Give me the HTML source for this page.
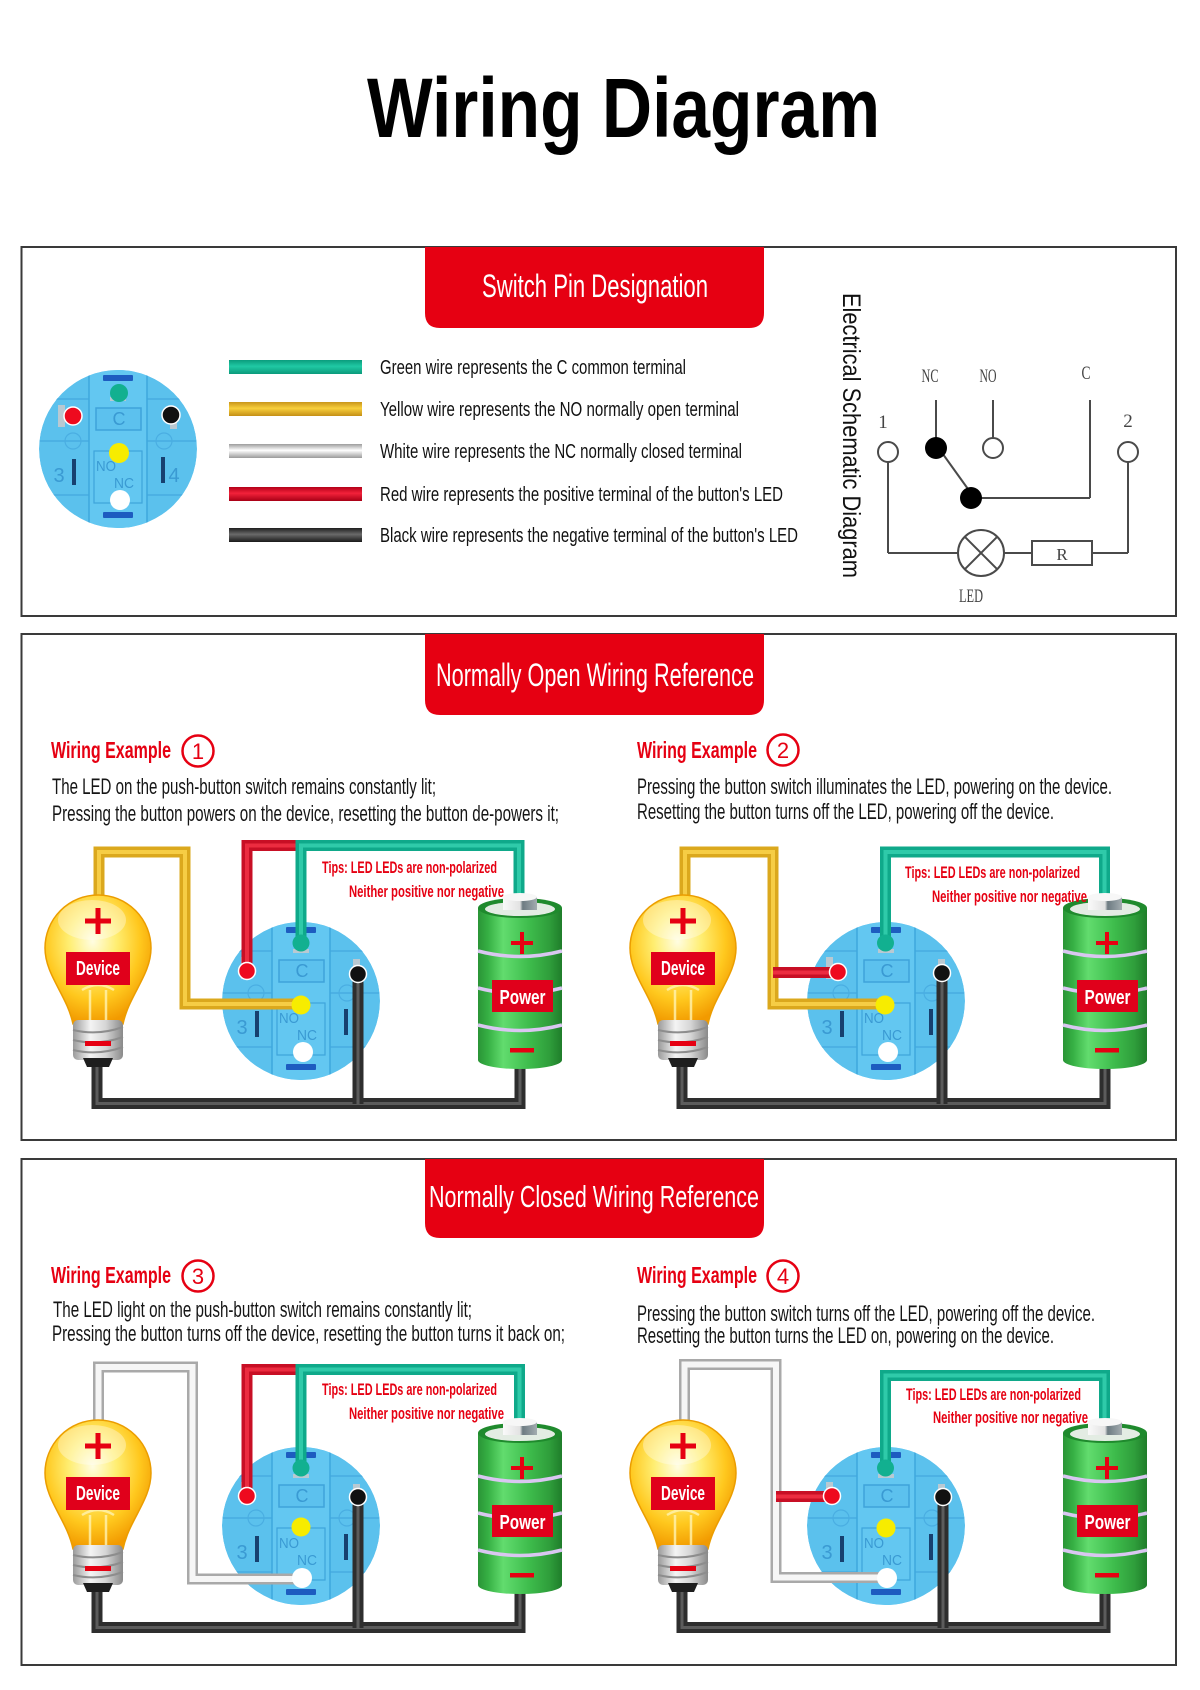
<!DOCTYPE html>
<html><head><meta charset="utf-8"><title>Wiring Diagram</title>
<style>
html,body{margin:0;padding:0;background:#fff;width:1200px;height:1690px;overflow:hidden}
svg{display:block}
text{font-family:"Liberation Sans","DejaVu Sans",sans-serif}
.serif text{font-family:"Liberation Serif","DejaVu Serif",serif}
.tips text{font-weight:600}
.w{fill:none;stroke-linejoin:miter;stroke-linecap:butt}
.wy{stroke:#dba81d;stroke-width:11}
.wyh{stroke:#f6cd45;stroke-width:4}
.wg{stroke:#0fa98a;stroke-width:11}
.wgh{stroke:#2fcaa9;stroke-width:4}
.wr{stroke:#c80f25;stroke-width:11}
.wrh{stroke:#ec2c40;stroke-width:4}
.wk{stroke:#2e2e2e;stroke-width:11}
.wkh{stroke:#5c5c5c;stroke-width:3}
.ww{stroke:#a9a9a9;stroke-width:11}
.wwh{stroke:#f6f6f6;stroke-width:6}
</style></head><body>
<svg width="1200" height="1690" viewBox="0 0 1200 1690">
<defs>
 <clipPath id="swClip"><circle r="79"/></clipPath>
 <radialGradient id="gBulb" cx="0.45" cy="0.36" r="0.64">
  <stop offset="0" stop-color="#fffde2"/>
  <stop offset="0.35" stop-color="#ffee72"/>
  <stop offset="0.7" stop-color="#ffc81e"/>
  <stop offset="1" stop-color="#f29a00"/>
 </radialGradient>
 <linearGradient id="gBase" x1="0" y1="0" x2="1" y2="0">
  <stop offset="0" stop-color="#9a9a9a"/>
  <stop offset="0.35" stop-color="#f4f4f4"/>
  <stop offset="0.65" stop-color="#d6d6d6"/>
  <stop offset="1" stop-color="#8a8a8a"/>
 </linearGradient>
 <linearGradient id="gBat" x1="0" y1="0" x2="1" y2="0">
  <stop offset="0" stop-color="#2a9436"/>
  <stop offset="0.12" stop-color="#36b044"/>
  <stop offset="0.3" stop-color="#62dc6e"/>
  <stop offset="0.45" stop-color="#50cd5e"/>
  <stop offset="0.62" stop-color="#3dbb4b"/>
  <stop offset="0.85" stop-color="#2f9e3b"/>
  <stop offset="1" stop-color="#1f7d2a"/>
 </linearGradient>
 <linearGradient id="gCap" x1="0" y1="0" x2="1" y2="0">
  <stop offset="0" stop-color="#fafafa"/>
  <stop offset="0.5" stop-color="#e2e2e2"/>
  <stop offset="0.58" stop-color="#6d7b82"/>
  <stop offset="1" stop-color="#a3acb0"/>
 </linearGradient>
 <linearGradient id="bG" x1="0" y1="0" x2="0" y2="1">
  <stop offset="0" stop-color="#0b9c7d"/><stop offset="0.45" stop-color="#20c9a4"/><stop offset="1" stop-color="#0b9a7b"/>
 </linearGradient>
 <linearGradient id="bY" x1="0" y1="0" x2="0" y2="1">
  <stop offset="0" stop-color="#c9951a"/><stop offset="0.45" stop-color="#f8cf3c"/><stop offset="1" stop-color="#c48f16"/>
 </linearGradient>
 <linearGradient id="bW" x1="0" y1="0" x2="0" y2="1">
  <stop offset="0" stop-color="#9c9c9c"/><stop offset="0.45" stop-color="#ffffff"/><stop offset="1" stop-color="#9a9a9a"/>
 </linearGradient>
 <linearGradient id="bR" x1="0" y1="0" x2="0" y2="1">
  <stop offset="0" stop-color="#b30018"/><stop offset="0.45" stop-color="#f2213a"/><stop offset="1" stop-color="#a80016"/>
 </linearGradient>
 <linearGradient id="bK" x1="0" y1="0" x2="0" y2="1">
  <stop offset="0" stop-color="#1e1e1e"/><stop offset="0.45" stop-color="#6a6a6a"/><stop offset="1" stop-color="#1a1a1a"/>
 </linearGradient>

 <g id="bulb">
  <path d="M-53,0 A53,53 0 1 1 53,0 C53,27 31,47 25,76 L-25,76 C-31,47 -53,27 -53,0 Z" fill="url(#gBulb)" stroke="#eb9d00" stroke-width="1.5"/>
  <ellipse cx="-6" cy="-28" rx="34" ry="20" fill="#ffffff" opacity="0.35"/>
  <path d="M-16,42 Q0,32 16,42 M-8,42 L-8,74 M8,42 L8,74" stroke="#fff2b0" stroke-width="2.5" fill="none" opacity="0.8"/>
  <rect x="-25" y="72" width="50" height="40" rx="5" fill="url(#gBase)"/>
  <path d="M-25,82 Q0,88 25,79 M-25,92 Q0,98 25,89 M-25,102 Q0,108 25,99" stroke="#8d8d8d" stroke-width="2" fill="none"/>
  <path d="M-15,110 H15 L11,119 H-11 Z" fill="#1e1e1e"/>
  <rect x="-13" y="-29.5" width="26" height="5" fill="#e60012"/>
  <rect x="-2.5" y="-40" width="5" height="26" fill="#e60012"/>
  <rect x="-32" y="4" width="64" height="33" fill="#e0001b"/>
  <rect x="-13" y="93" width="26" height="5" fill="#e60012"/>
 </g>

 <g id="bat">
  <path d="M-42,8 V160 A42,9 0 0 0 42,160 V8 Z" fill="url(#gBat)"/>
  <ellipse cx="0" cy="8" rx="42" ry="10" fill="#1f8a2d"/>
  <ellipse cx="0" cy="9" rx="35" ry="7" fill="#e3ece3"/>
  <rect x="-17" y="-3" width="34" height="13" fill="url(#gCap)"/>
  <ellipse cx="0" cy="-3" rx="17" ry="4" fill="#f7f7f7"/>
  <path d="M-42,51 Q0,62 42,51 M-42,88 Q0,99 42,88 M-42,125 Q0,136 42,125" stroke="#d9c7f1" stroke-width="3.5" fill="none"/>
  <rect x="-9" y="41" width="22" height="4" fill="#e60012"/>
  <rect x="0" y="32" width="4" height="22" fill="#e60012"/>
  <rect x="-28" y="80" width="61" height="32" fill="#e0001b"/>
  <rect x="-10" y="148" width="24" height="4.5" fill="#e60012"/>
 </g>

 <g id="sw">
  <g clip-path="url(#swClip)">
  <circle r="79" fill="#5bc1ed"/>
  <path d="M-78,-8 H-29 M29,-8 H78 M-78,46 H-29 M29,46 H78 M-70,-50 H-29 M29,-50 H70" stroke="#48ace1" stroke-width="1.5"/>
  <rect x="-29" y="-82" width="58" height="164" fill="#63c7f1" stroke="#3ea7dd" stroke-width="1.5"/>
  <rect x="-22" y="-41" width="45" height="22" fill="#5cc1ee" stroke="#3ea3da" stroke-width="1.5"/>
  <rect x="-24" y="2" width="48" height="52" fill="none" stroke="#3ea3da" stroke-width="1.2"/>
  <rect x="-15" y="-74" width="30" height="6" rx="1" fill="#1d5cc0"/>
  <rect x="-15" y="63" width="30" height="6" rx="1" fill="#1d5cc0"/>
  <rect x="-46" y="10" width="4" height="26" fill="#17406f"/>
  <rect x="43" y="8" width="4" height="26" fill="#17406f"/>
  <circle cx="-45" cy="-8" r="8" fill="none" stroke="#4aaee2" stroke-width="1.2"/>
  <circle cx="46" cy="-8" r="8" fill="none" stroke="#4aaee2" stroke-width="1.2"/>
  <rect x="-60" y="-44" width="7" height="22" fill="#b9c9d2"/>
  <rect x="52" y="-42" width="7" height="22" fill="#b9c9d2"/>
  <rect x="-8" y="-52" width="16" height="4" fill="#b9c9d2"/>
  </g>
 </g>
</defs>

<rect width="1200" height="1690" fill="#fff"/>

<!-- Title -->
<text x="367" y="137" font-size="84" font-weight="bold" fill="#000" textLength="513" lengthAdjust="spacingAndGlyphs">Wiring Diagram</text>

<!-- ============ SECTION 1 ============ -->
<rect x="21.5" y="247" width="1154.5" height="369" fill="none" stroke="#3a3a3a" stroke-width="2"/>
<path d="M425,247 H764 V313 Q764,328 749,328 H440 Q425,328 425,313 Z" fill="#e60012"/>
<text x="482" y="297" font-size="32" fill="#fff" textLength="226" lengthAdjust="spacingAndGlyphs">Switch Pin Designation</text>

<!-- legend switch -->
<use href="#sw" transform="translate(118,449)"/>
<text x="119" y="425" font-size="18" fill="#3a9ad3" text-anchor="middle">C</text>
<text x="106" y="471" font-size="15" fill="#3a9ad3" text-anchor="middle" textLength="20" lengthAdjust="spacingAndGlyphs">NO</text>
<text x="124" y="488" font-size="15" fill="#3a9ad3" text-anchor="middle" textLength="20" lengthAdjust="spacingAndGlyphs">NC</text>
<text x="59" y="482" font-size="20" fill="#3a9ad3" text-anchor="middle">3</text>
<text x="174" y="482" font-size="20" fill="#3a9ad3" text-anchor="middle">4</text>
<circle cx="119" cy="393" r="9" fill="#12b090"/>
<circle cx="73" cy="416" r="9" fill="#ee0a1e" stroke="#fff" stroke-width="1.5"/>
<circle cx="171" cy="415" r="9" fill="#111" stroke="#fff" stroke-width="1.5"/>
<circle cx="119" cy="453" r="10" fill="#f7ec00"/>
<circle cx="120" cy="500" r="10" fill="#fff"/>

<!-- legend bars -->
<rect x="229" y="360" width="133" height="14" fill="url(#bG)"/>
<rect x="229" y="402" width="133" height="14" fill="url(#bY)"/>
<rect x="229" y="444" width="133" height="14" fill="url(#bW)"/>
<rect x="229" y="487" width="133" height="14" fill="url(#bR)"/>
<rect x="229" y="528" width="133" height="14" fill="url(#bK)"/>
<g font-size="20" fill="#111">
<text x="380" y="374" textLength="306" lengthAdjust="spacingAndGlyphs">Green wire represents the C common terminal</text>
<text x="380" y="416" textLength="359" lengthAdjust="spacingAndGlyphs">Yellow wire represents the NO normally open terminal</text>
<text x="380" y="458" textLength="362" lengthAdjust="spacingAndGlyphs">White wire represents the NC normally closed terminal</text>
<text x="380" y="501" textLength="403" lengthAdjust="spacingAndGlyphs">Red wire represents the positive terminal of the button's LED</text>
<text x="380" y="542" textLength="418" lengthAdjust="spacingAndGlyphs">Black wire represents the negative terminal of the button's LED</text>
</g>

<!-- vertical label -->
<text transform="translate(843,293) rotate(90)" font-size="25" fill="#111" textLength="285" lengthAdjust="spacingAndGlyphs">Electrical Schematic Diagram</text>

<!-- schematic -->
<g stroke="#4a4a4a" stroke-width="2" fill="none">
 <line x1="936" y1="400" x2="936" y2="442"/>
 <line x1="993" y1="400" x2="993" y2="438"/>
 <circle cx="993" cy="448" r="10"/>
 <line x1="1090" y1="400" x2="1090" y2="498"/>
 <line x1="971" y1="498" x2="1090" y2="498"/>
 <line x1="940" y1="450" x2="973" y2="496"/>
 <circle cx="888" cy="452" r="10"/>
 <line x1="888" y1="462" x2="888" y2="553"/>
 <line x1="888" y1="553" x2="958" y2="553"/>
 <circle cx="981" cy="553" r="23"/>
 <line x1="964.7" y1="536.7" x2="997.3" y2="569.3"/>
 <line x1="997.3" y1="536.7" x2="964.7" y2="569.3"/>
 <line x1="1004" y1="553" x2="1032" y2="553"/>
 <rect x="1032" y="541" width="60" height="24"/>
 <line x1="1092" y1="553" x2="1128" y2="553"/>
 <line x1="1128" y1="462" x2="1128" y2="553"/>
 <circle cx="1128" cy="452" r="10"/>
</g>
<circle cx="936" cy="448" r="11" fill="#000"/>
<circle cx="971" cy="498" r="11" fill="#000"/>
<g class="serif" fill="#444" font-size="19">
 <text x="930" y="382" text-anchor="middle" textLength="17" lengthAdjust="spacingAndGlyphs">NC</text>
 <text x="988" y="382" text-anchor="middle" textLength="17" lengthAdjust="spacingAndGlyphs">NO</text>
 <text x="1086" y="379" text-anchor="middle" textLength="9" lengthAdjust="spacingAndGlyphs">C</text>
 <text x="883" y="428" text-anchor="middle">1</text>
 <text x="1128" y="427" text-anchor="middle">2</text>
 <text x="1062" y="560" text-anchor="middle" font-size="17">R</text>
 <text x="971" y="602" text-anchor="middle" textLength="24" lengthAdjust="spacingAndGlyphs">LED</text>
</g>

<!-- ============ SECTION 2 ============ -->
<rect x="21.5" y="634" width="1154.5" height="506" fill="none" stroke="#3a3a3a" stroke-width="2"/>
<path d="M425,634 H764 V700 Q764,715 749,715 H440 Q425,715 425,700 Z" fill="#e60012"/>
<text x="436" y="686" font-size="32" fill="#fff" textLength="318" lengthAdjust="spacingAndGlyphs">Normally Open Wiring Reference</text>

<!-- Example 1 header -->
<text x="51" y="758" font-size="23" font-weight="bold" fill="#e60012" textLength="120" lengthAdjust="spacingAndGlyphs">Wiring Example</text>
<circle cx="198" cy="751" r="15.5" fill="none" stroke="#e60012" stroke-width="2.5"/>
<text x="198" y="759" font-size="22" fill="#e60012" text-anchor="middle">1</text>
<g font-size="22" fill="#151515">
<text x="52" y="794" textLength="384" lengthAdjust="spacingAndGlyphs">The LED on the push-button switch remains constantly lit;</text>
<text x="52" y="821" textLength="507" lengthAdjust="spacingAndGlyphs">Pressing the button powers on the device, resetting the button de-powers it;</text>
</g>

<!-- Example 2 header -->
<text x="637" y="758" font-size="23" font-weight="bold" fill="#e60012" textLength="120" lengthAdjust="spacingAndGlyphs">Wiring Example</text>
<circle cx="783" cy="750" r="15.5" fill="none" stroke="#e60012" stroke-width="2.5"/>
<text x="783" y="758" font-size="22" fill="#e60012" text-anchor="middle">2</text>
<g font-size="22" fill="#151515">
<text x="637" y="794" textLength="475" lengthAdjust="spacingAndGlyphs">Pressing the button switch illuminates the LED, powering on the device.</text>
<text x="637" y="819" textLength="417" lengthAdjust="spacingAndGlyphs">Resetting the button turns off the LED, powering off the device.</text>
</g>

<!-- Example 1 circuit -->
<use href="#sw" transform="translate(301,1001)"/>
<g fill="#3a9ad3" text-anchor="middle">
<text x="302" y="977" font-size="18">C</text>
<text x="289" y="1023" font-size="15" textLength="20" lengthAdjust="spacingAndGlyphs">NO</text>
<text x="307" y="1040" font-size="15" textLength="20" lengthAdjust="spacingAndGlyphs">NC</text>
<text x="242" y="1034" font-size="20">3</text>
</g>
<path class="w wk" d="M97,1060 V1103.5 H520 V1065"/>
<path class="w wkh" d="M97,1060 V1103.5 H520 V1065"/>
<path class="w wy" d="M99,900 V852 H185 V1004 H301"/>
<path class="w wyh" d="M99,900 V852 H185 V1004 H301"/>
<path class="w wr" d="M247,971 V845.5 H301"/>
<path class="w wrh" d="M247,971 V845.5 H301"/>
<path class="w wg" d="M301,943 V845.5 H519 V905"/>
<path class="w wgh" d="M301,943 V845.5 H519 V905"/>
<path class="w wk" d="M358,974 V1104"/>
<path class="w wkh" d="M358,974 V1104"/>
<use href="#bulb" transform="translate(98,948)"/>
<use href="#bat" transform="translate(520,900)"/>
<text x="98" y="975" font-size="20" font-weight="bold" fill="#fff" text-anchor="middle" textLength="44" lengthAdjust="spacingAndGlyphs">Device</text>
<text x="522.5" y="1004" font-size="20" font-weight="bold" fill="#fff" text-anchor="middle" textLength="46" lengthAdjust="spacingAndGlyphs">Power</text>
<circle cx="301" cy="943" r="8.5" fill="#12b090"/>
<circle cx="247" cy="971" r="8.5" fill="#ee0a1e" stroke="#fff" stroke-width="1.5"/>
<circle cx="358" cy="974" r="8.5" fill="#111" stroke="#fff" stroke-width="1.5"/>
<circle cx="301" cy="1005" r="9.5" fill="#f7ec00"/>
<circle cx="303" cy="1052" r="10" fill="#fff"/>
<g class="tips" font-size="17" fill="#e60012">
<text x="322" y="873" textLength="175" lengthAdjust="spacingAndGlyphs">Tips: LED LEDs are non-polarized</text>
<text x="349" y="897" textLength="155" lengthAdjust="spacingAndGlyphs">Neither positive nor negative</text>
</g>

<!-- Example 2 circuit -->
<use href="#sw" transform="translate(886,1001)"/>
<g fill="#3a9ad3" text-anchor="middle">
<text x="887" y="977" font-size="18">C</text>
<text x="874" y="1023" font-size="15" textLength="20" lengthAdjust="spacingAndGlyphs">NO</text>
<text x="892" y="1040" font-size="15" textLength="20" lengthAdjust="spacingAndGlyphs">NC</text>
<text x="827" y="1034" font-size="20">3</text>
</g>
<path class="w wk" d="M682,1060 V1103.5 H1105 V1065"/>
<path class="w wkh" d="M682,1060 V1103.5 H1105 V1065"/>
<path class="w wy" d="M685,900 V852 H773 V1004 H885"/>
<path class="w wyh" d="M685,900 V852 H773 V1004 H885"/>
<path class="w wr" d="M773,972.5 H838"/>
<path class="w wrh" d="M773,972.5 H838"/>
<path class="w wg" d="M885.5,943 V852 H1104.5 V905"/>
<path class="w wgh" d="M885.5,943 V852 H1104.5 V905"/>
<path class="w wk" d="M942,973 V1104"/>
<path class="w wkh" d="M942,973 V1104"/>
<use href="#bulb" transform="translate(683,948)"/>
<use href="#bat" transform="translate(1105,900)"/>
<text x="683" y="975" font-size="20" font-weight="bold" fill="#fff" text-anchor="middle" textLength="44" lengthAdjust="spacingAndGlyphs">Device</text>
<text x="1107.5" y="1004" font-size="20" font-weight="bold" fill="#fff" text-anchor="middle" textLength="46" lengthAdjust="spacingAndGlyphs">Power</text>
<circle cx="885.5" cy="943" r="8.5" fill="#12b090"/>
<circle cx="838" cy="972" r="8.5" fill="#ee0a1e" stroke="#fff" stroke-width="1.5"/>
<circle cx="942" cy="973" r="8.5" fill="#111" stroke="#fff" stroke-width="1.5"/>
<circle cx="885" cy="1005" r="9.5" fill="#f7ec00"/>
<circle cx="888" cy="1052" r="10" fill="#fff"/>
<g class="tips" font-size="17" fill="#e60012">
<text x="905" y="878" textLength="175" lengthAdjust="spacingAndGlyphs">Tips: LED LEDs are non-polarized</text>
<text x="932" y="902" textLength="155" lengthAdjust="spacingAndGlyphs">Neither positive nor negative</text>
</g>

<!-- ============ SECTION 3 ============ -->
<rect x="21.5" y="1159" width="1154.5" height="506" fill="none" stroke="#3a3a3a" stroke-width="2"/>
<path d="M425,1159 H764 V1223 Q764,1238 749,1238 H440 Q425,1238 425,1223 Z" fill="#e60012"/>
<text x="429" y="1207" font-size="31" fill="#fff" textLength="330" lengthAdjust="spacingAndGlyphs">Normally Closed Wiring Reference</text>

<!-- Example 3 header -->
<text x="51" y="1283" font-size="23" font-weight="bold" fill="#e60012" textLength="120" lengthAdjust="spacingAndGlyphs">Wiring Example</text>
<circle cx="198" cy="1276" r="15.5" fill="none" stroke="#e60012" stroke-width="2.5"/>
<text x="198" y="1284" font-size="22" fill="#e60012" text-anchor="middle">3</text>
<g font-size="22" fill="#151515">
<text x="53" y="1317" textLength="419" lengthAdjust="spacingAndGlyphs">The LED light on the push-button switch remains constantly lit;</text>
<text x="52" y="1341" textLength="513" lengthAdjust="spacingAndGlyphs">Pressing the button turns off the device, resetting the button turns it back on;</text>
</g>

<!-- Example 4 header -->
<text x="637" y="1283" font-size="23" font-weight="bold" fill="#e60012" textLength="120" lengthAdjust="spacingAndGlyphs">Wiring Example</text>
<circle cx="783" cy="1276" r="15.5" fill="none" stroke="#e60012" stroke-width="2.5"/>
<text x="783" y="1284" font-size="22" fill="#e60012" text-anchor="middle">4</text>
<g font-size="22" fill="#151515">
<text x="637" y="1321" textLength="458" lengthAdjust="spacingAndGlyphs">Pressing the button switch turns off the LED, powering off the device.</text>
<text x="637" y="1343" textLength="417" lengthAdjust="spacingAndGlyphs">Resetting the button turns the LED on, powering on the device.</text>
</g>

<!-- Example 3 circuit -->
<use href="#sw" transform="translate(301,1526)"/>
<g fill="#3a9ad3" text-anchor="middle">
<text x="302" y="1502" font-size="18">C</text>
<text x="289" y="1548" font-size="15" textLength="20" lengthAdjust="spacingAndGlyphs">NO</text>
<text x="307" y="1565" font-size="15" textLength="20" lengthAdjust="spacingAndGlyphs">NC</text>
<text x="242" y="1559" font-size="20">3</text>
</g>
<path class="w wk" d="M97,1585 V1627.5 H520 V1590"/>
<path class="w wkh" d="M97,1585 V1627.5 H520 V1590"/>
<path class="w ww" d="M98.5,1425 V1367 H192.5 V1579 H302"/>
<path class="w wwh" d="M98.5,1425 V1367 H192.5 V1579 H302"/>
<path class="w wr" d="M247,1496 V1369.5 H301"/>
<path class="w wrh" d="M247,1496 V1369.5 H301"/>
<path class="w wg" d="M301,1468 V1369.5 H519.5 V1430"/>
<path class="w wgh" d="M301,1468 V1369.5 H519.5 V1430"/>
<path class="w wk" d="M358,1497 V1628"/>
<path class="w wkh" d="M358,1497 V1628"/>
<use href="#bulb" transform="translate(98,1473)"/>
<use href="#bat" transform="translate(520,1425)"/>
<text x="98" y="1500" font-size="20" font-weight="bold" fill="#fff" text-anchor="middle" textLength="44" lengthAdjust="spacingAndGlyphs">Device</text>
<text x="522.5" y="1529" font-size="20" font-weight="bold" fill="#fff" text-anchor="middle" textLength="46" lengthAdjust="spacingAndGlyphs">Power</text>
<circle cx="301" cy="1468" r="8.5" fill="#12b090"/>
<circle cx="247" cy="1496" r="8.5" fill="#ee0a1e" stroke="#fff" stroke-width="1.5"/>
<circle cx="358" cy="1497" r="8.5" fill="#111" stroke="#fff" stroke-width="1.5"/>
<circle cx="301" cy="1527" r="9.5" fill="#f7ec00"/>
<circle cx="302" cy="1578" r="10" fill="#fff"/>
<g class="tips" font-size="17" fill="#e60012">
<text x="322" y="1395" textLength="175" lengthAdjust="spacingAndGlyphs">Tips: LED LEDs are non-polarized</text>
<text x="349" y="1419" textLength="155" lengthAdjust="spacingAndGlyphs">Neither positive nor negative</text>
</g>

<!-- Example 4 circuit -->
<use href="#sw" transform="translate(886,1526)"/>
<g fill="#3a9ad3" text-anchor="middle">
<text x="887" y="1502" font-size="18">C</text>
<text x="874" y="1548" font-size="15" textLength="20" lengthAdjust="spacingAndGlyphs">NO</text>
<text x="892" y="1565" font-size="15" textLength="20" lengthAdjust="spacingAndGlyphs">NC</text>
<text x="827" y="1559" font-size="20">3</text>
</g>
<path class="w wk" d="M682,1585 V1627.5 H1105 V1590"/>
<path class="w wkh" d="M682,1585 V1627.5 H1105 V1590"/>
<path class="w ww" d="M684.5,1425 V1364.5 H776 V1577.5 H887"/>
<path class="w wwh" d="M684.5,1425 V1364.5 H776 V1577.5 H887"/>
<path class="w wr" d="M776,1496.5 H832"/>
<path class="w wrh" d="M776,1496.5 H832"/>
<path class="w wg" d="M885.5,1468 V1375.5 H1104.5 V1430"/>
<path class="w wgh" d="M885.5,1468 V1375.5 H1104.5 V1430"/>
<path class="w wk" d="M943,1497 V1628"/>
<path class="w wkh" d="M943,1497 V1628"/>
<use href="#bulb" transform="translate(683,1473)"/>
<use href="#bat" transform="translate(1105,1425)"/>
<text x="683" y="1500" font-size="20" font-weight="bold" fill="#fff" text-anchor="middle" textLength="44" lengthAdjust="spacingAndGlyphs">Device</text>
<text x="1107.5" y="1529" font-size="20" font-weight="bold" fill="#fff" text-anchor="middle" textLength="46" lengthAdjust="spacingAndGlyphs">Power</text>
<circle cx="885.5" cy="1468" r="8.5" fill="#12b090"/>
<circle cx="832" cy="1496" r="8.5" fill="#ee0a1e" stroke="#fff" stroke-width="1.5"/>
<circle cx="943" cy="1497" r="8.5" fill="#111" stroke="#fff" stroke-width="1.5"/>
<circle cx="886" cy="1528" r="9.5" fill="#f7ec00"/>
<circle cx="887" cy="1578" r="10" fill="#fff"/>
<g class="tips" font-size="17" fill="#e60012">
<text x="906" y="1400" textLength="175" lengthAdjust="spacingAndGlyphs">Tips: LED LEDs are non-polarized</text>
<text x="933" y="1423" textLength="155" lengthAdjust="spacingAndGlyphs">Neither positive nor negative</text>
</g>
</svg>
</body></html>
